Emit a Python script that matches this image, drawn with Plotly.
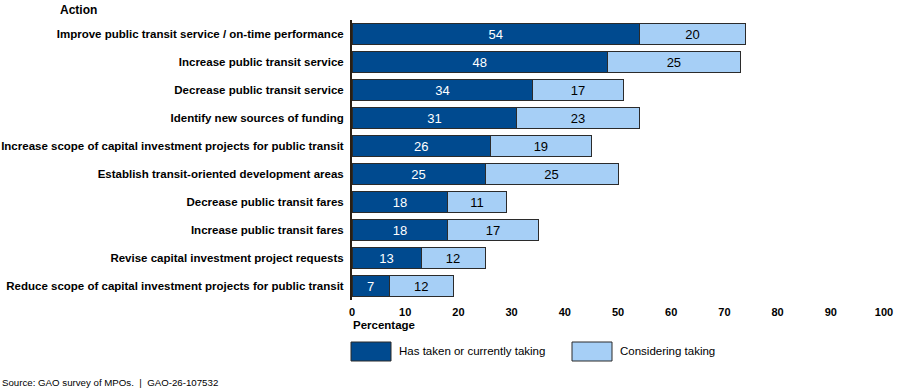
import plotly.graph_objects as go

categories = [
    "Improve public transit service / on-time performance",
    "Increase public transit service",
    "Decrease public transit service",
    "Identify new sources of funding",
    "Increase scope of capital investment projects for public transit",
    "Establish transit-oriented development areas",
    "Decrease public transit fares",
    "Increase public transit fares",
    "Revise capital investment project requests",
    "Reduce scope of capital investment projects for public transit",
]
taken = [54, 48, 34, 31, 26, 25, 18, 18, 13, 7]
considering = [20, 25, 17, 23, 19, 25, 11, 17, 12, 12]
x_ticks = [0, 10, 20, 30, 40, 50, 60, 70, 80, 90, 100]

DARK = "#004A8F"
LIGHT = "#A6CFF6"
FONT = "Liberation Sans, Arial, sans-serif"

fig = go.Figure()
fig.add_trace(go.Bar(
    y=categories, x=taken, orientation="h", name="Has taken or currently taking",
    marker=dict(color=DARK, line=dict(color="#2b2b2b", width=1)),
    text=taken, textposition="inside", insidetextanchor="middle", textangle=0,
    textfont=dict(color="white", size=13, family=FONT),
    constraintext="none",
))
fig.add_trace(go.Bar(
    y=categories, x=considering, orientation="h", name="Considering taking",
    marker=dict(color=LIGHT, line=dict(color="#2b2b2b", width=1)),
    text=considering, textposition="inside", insidetextanchor="middle", textangle=0,
    textfont=dict(color="black", size=13, family=FONT),
    constraintext="none",
))

fig.update_layout(
    barmode="stack",
    bargap=0.27,
    uniformtext=dict(minsize=13, mode="show"),
    width=899, height=388,
    margin=dict(l=352, r=15, t=20, b=88),
    plot_bgcolor="white", paper_bgcolor="white",
    showlegend=False,
    font=dict(family=FONT, color="black"),
    xaxis=dict(
        range=[0, 100], tickvals=x_ticks, ticktext=[f"<b>{v}</b>" for v in x_ticks],
        showgrid=False, zeroline=False, showline=False, automargin=False,
        tickfont=dict(size=11, family=FONT, color="black"),
        ticklabelstandoff=4,
    ),
    yaxis=dict(
        categoryorder="array", categoryarray=categories, autorange="reversed",
        tickvals=categories, ticktext=[f"<b>{c}</b>" for c in categories],
        showgrid=False, zeroline=False, showline=True, linecolor="#2a1f14", linewidth=2,
        automargin=False,
        tickfont=dict(size=11.5, family=FONT, color="black"),
        ticklabelstandoff=4,
    ),
)

def px_x(px):
    return (px - 352) / 532.0

def px_y(py):
    return (300 - py) / 280.0

annotations = [
    dict(text="<b>Action</b>", x=px_x(58), y=px_y(10), xanchor="left", yanchor="middle",
         font=dict(size=12)),
    dict(text="<b>Percentage</b>", x=px_x(351), y=px_y(325), xanchor="left", yanchor="middle",
         font=dict(size=11.5)),
    dict(text="Has taken or currently taking", x=px_x(397), y=px_y(351), xanchor="left",
         yanchor="middle", font=dict(size=11.5)),
    dict(text="Considering taking", x=px_x(618), y=px_y(351), xanchor="left",
         yanchor="middle", font=dict(size=11.5)),
    dict(text="Source: GAO survey of MPOs.  |  GAO-26-107532", x=px_x(0), y=px_y(382),
         xanchor="left", yanchor="middle", font=dict(size=9.7)),
]
for a in annotations:
    a.update(xref="paper", yref="paper", showarrow=False)
fig.update_layout(annotations=annotations)

fig.add_shape(type="rect", xref="paper", yref="paper",
              x0=px_x(351), x1=px_x(391), y0=px_y(342), y1=px_y(361),
              fillcolor=DARK, line=dict(color="#2b2b2b", width=1))
fig.add_shape(type="rect", xref="paper", yref="paper",
              x0=px_x(572), x1=px_x(612), y0=px_y(342), y1=px_y(361),
              fillcolor=LIGHT, line=dict(color="#2b2b2b", width=1))

fig.write_html(
    "out.html",
    config={"displayModeBar": False},
    post_script="document.body.style.margin='0';document.body.style.overflow='hidden';",
)
